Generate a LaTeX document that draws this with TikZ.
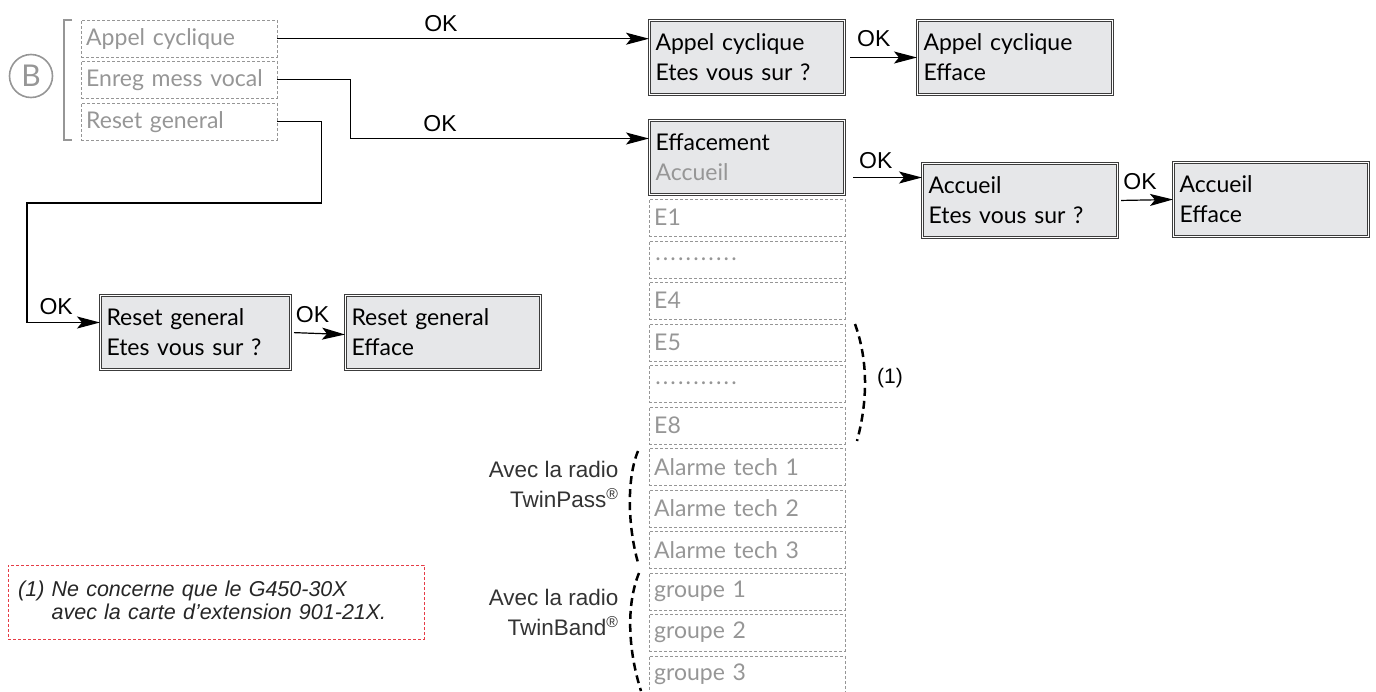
\documentclass[tikz,border=0pt]{standalone}
\usepackage{fontspec}
\setmainfont{Lato}
\newfontfamily\arialfont{Liberation Sans}
\usetikzlibrary{positioning,arrows.meta}

\definecolor{menugray}{RGB}{150,150,150}
\definecolor{screenfill}{RGB}{230,231,233}
\definecolor{framegray}{RGB}{60,60,60}
\definecolor{notered}{RGB}{230,60,70}

% row of spaced dots for the elided entries
\newcommand\dotline{\leavevmode\leaders\hbox to 7.6pt{\hss.\hss}\hskip 84pt\kern0pt\relax}

\begin{document}
\begin{tikzpicture}[x=1pt, y=-1pt,
    menuitem/.style={draw=menugray, dash pattern=on 3pt off 2pt, text=menugray,
      anchor=north west, minimum height=37pt, text width=186pt, inner xsep=5pt,
      align=left, font=\fontsize{23}{28}\selectfont},
    screen/.style={draw=framegray, double, double distance=1.8pt, line width=1pt,
      fill=screenfill, anchor=north west, minimum height=74pt, text width=183pt,
      inner xsep=6pt, align=left, font=\fontsize{23}{30}\selectfont},
    okarrow/.style={-{Stealth[length=23pt,width=12pt,inset=5pt]}, line width=1.2pt},
    oklabel/.style={font=\arialfont\fontsize{23}{25}\selectfont, inner sep=2pt},
    sidenote/.style={font=\arialfont\fontsize{22.5}{30}\selectfont, text=black!80, align=right},
    rangecurve/.style={line width=2.5pt, dash pattern=on 8pt off 5pt}]
  \useasboundingbox (0,0) rectangle (1376,691);

  % menu B
  \node[draw=menugray, line width=1.6pt, circle, minimum size=43pt, inner sep=0pt,
    text=menugray, font=\fontsize{30}{30}\selectfont] (circB) at (31,76) {B};
  \draw[menugray, line width=2.5pt] (72,20) -| (64,140) -- (72,140);
  \node[menuitem] (appel) at (81,20) {Appel cyclique};
  \node[menuitem] (enreg) at (81,61) {Enreg mess vocal};
  \node[menuitem] (reset) at (81,103) {Reset general};

  % screens
  \node[screen] (appelQ) at (649,20) {Appel cyclique\\Etes vous sur ?};
  \node[screen] (appelE) at (917,20) {Appel cyclique\\Efface};
  \node[screen] (effac) at (649,120) {Effacement\\\textcolor{menugray}{Accueil}};
  \node[screen] (accQ) at (922,163) {Accueil\\Etes vous sur ?};
  \node[screen] (accE) at (1173,162) {Accueil\\Efface};
  \node[screen, text width=178pt] (resetQ) at (100,295) {Reset general\\Etes vous sur ?};
  \node[screen] (resetE) at (345,295) {Reset general\\Efface};

  % list under Effacement
  \foreach \txt [count=\i] in {E1, \dotline, E4, E5, \dotline, E8,
      Alarme tech 1, Alarme tech 2, Alarme tech 3, groupe 1, groupe 2, groupe 3}
    \node[menuitem] (item\i) at (649,{199+41.5*(\i-1)}) {\txt};

  % connectors
  \draw[okarrow] (appel.east) -- (appel.east -| appelQ.west)
    node[oklabel, above=4pt, pos=0.44] {OK};
  \draw[okarrow] (enreg.east) -- ++(73,0) |- ([yshift=19pt]effac.west)
    node[oklabel, above=4pt, pos=0.65] {OK};
  \coordinate (rbend) at (27,203);
  \draw[okarrow] (reset.east) -- ++(44,0) |- (rbend) |- ([yshift=10pt]resetQ.west)
    node[oklabel, above=5pt, pos=0.7] {OK};
  \draw[okarrow, shorten <=5pt] (appelQ.east) -- (appelE.west)
    node[oklabel, above=8pt, pos=0.4] {OK};
  \draw[okarrow, shorten <=8pt] ([yshift=-20pt]effac.east) -- ([yshift=-20pt]effac.east -| accQ.west)
    node[oklabel, above=6pt, pos=0.4] {OK};
  \draw[okarrow, shorten <=3pt] (accQ.east) -- (accE.west)
    node[oklabel, above=8pt, pos=0.4] {OK};
  \draw[okarrow, shorten <=3pt] (resetQ.east) -- ([yshift=-2pt]resetE.west)
    node[oklabel, above=8pt, pos=0.4] {OK};

  % ranges
  \draw[rangecurve] (855,324) .. controls (868,360) and (868,400) .. (857,441);
  \node[oklabel, font=\arialfont\fontsize{21}{23}\selectfont] (note1) at (890,378) {(1)};
  \draw[rangecurve] (638,451) .. controls (626,480) and (628,530) .. (639,566);
  \draw[rangecurve] (639,573) .. controls (626,605) and (628,650) .. (641,691);
  \node[sidenote, anchor=east] (twinpass) at (622,484) {Avec la radio\\TwinPass\textsuperscript{®}};
  \node[sidenote, anchor=east] (twinband) at (622,612) {Avec la radio\\TwinBand\textsuperscript{®}};

  % footnote
  \node[draw=notered, dash pattern=on 3pt off 2pt, anchor=north west, minimum height=74pt,
    text width=396pt, inner xsep=10pt, align=left,
    font=\arialfont\itshape\fontsize{21.5}{23}\selectfont, text=black!85] (footnote) at (8,565)
    {(1) Ne concerne que le G450-30X\\\phantom{(1) }avec la carte d’extension 901-21X.};
\end{tikzpicture}
\end{document}
